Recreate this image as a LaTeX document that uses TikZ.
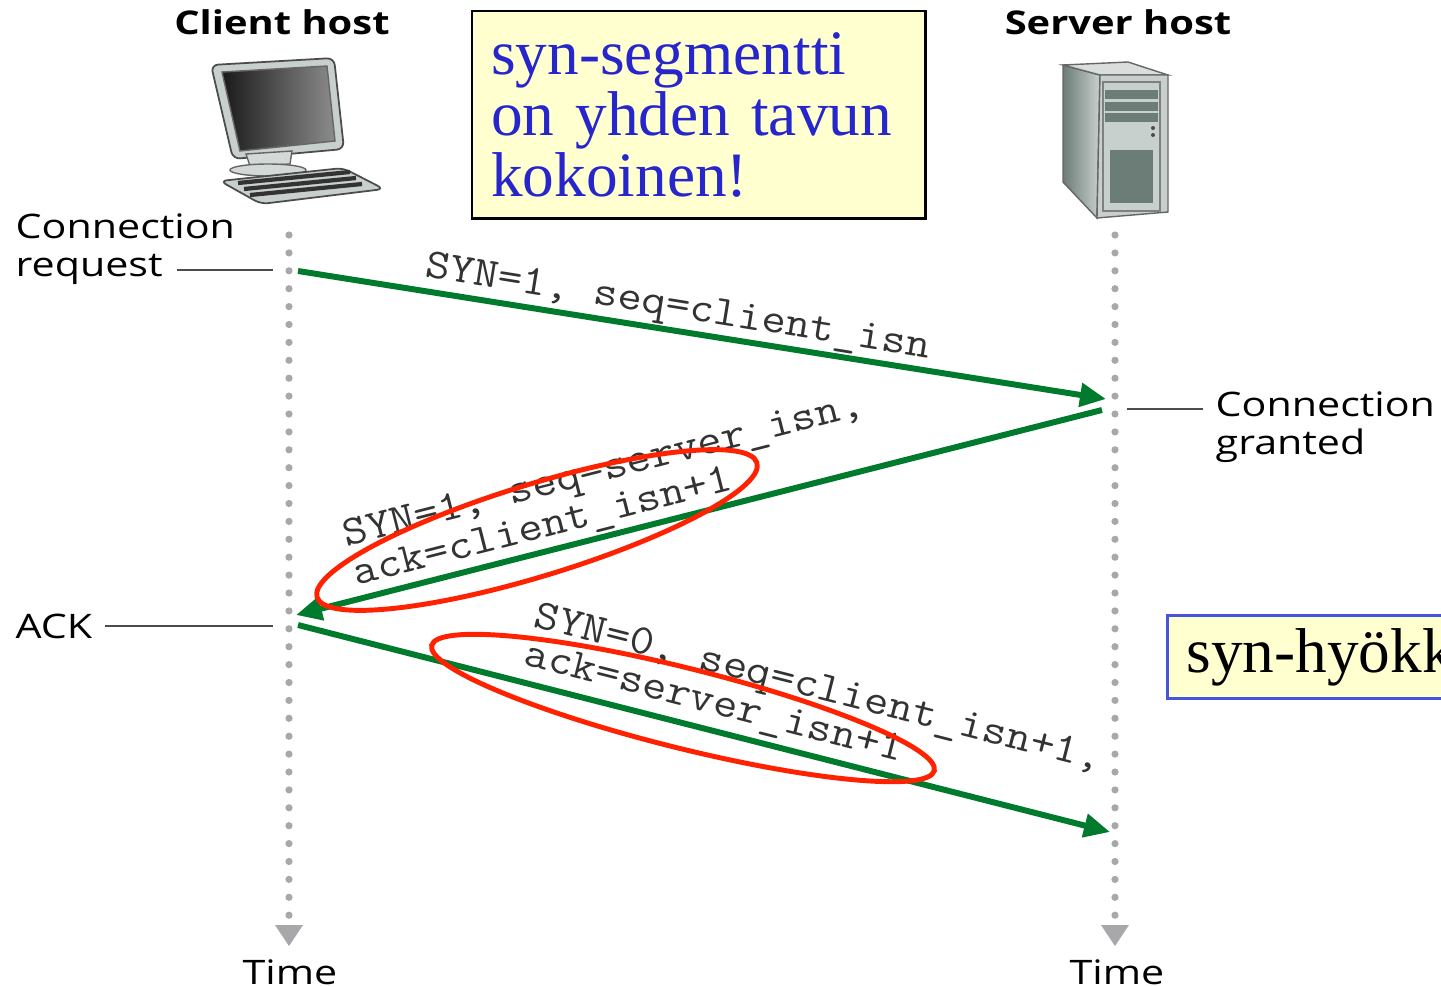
\documentclass[tikz,border=0pt]{standalone}
\usepackage{fontspec}
\setmainfont{Liberation Serif}
\newfontfamily\hostfont[FakeStretch=1.22]{Open Sans}
\newfontfamily\pktfont[FakeStretch=1.12]{Latin Modern Mono}
\usetikzlibrary{arrows.meta}

\definecolor{msggreen}{RGB}{0,122,45}
\definecolor{ovalred}{RGB}{255,34,0}
\definecolor{notebg}{RGB}{255,255,208}
\definecolor{noteblue}{RGB}{38,38,204}
\definecolor{notefrm}{RGB}{70,85,220}
\definecolor{dotgray}{RGB}{168,168,170}
\definecolor{silver}{RGB}{200,208,205}
\definecolor{slate}{RGB}{108,124,118}

\begin{document}
\begin{tikzpicture}[x=0.01cm, y=-0.01cm,
    host/.style={font=\hostfont\bfseries\fontsize{9.3}{11}\selectfont, inner sep=0pt},
    lbl/.style={font=\hostfont\fontsize{9.6}{10.8}\selectfont, align=left,
      anchor=west, inner sep=0pt},
    tick/.style={draw=black!70, line width=0.5pt},
    msg/.style={draw=msggreen, line width=1.7pt,
      -{Triangle[length=2.6mm, width=2.3mm]}},
    pkt/.style={font=\pktfont\fontsize{12}{11.4}\selectfont, text=black!80,
      align=left, inner sep=0pt},
    oval/.style={draw=ovalred, line width=1.4pt},
    note/.style={draw, fill=notebg, anchor=north west, align=left,
      inner xsep=0.19cm, font=\fontsize{18}{17.3}\selectfont}
  ]
  \useasboundingbox (0,0) rectangle (1441,987);
  \clip (0,0) rectangle (1441,987);
  \fill[white] (0,0) rectangle (1441,987);

  % hosts
  \node[host] (chost) at (282,22) {Client host};
  \node[host] (shost) at (1118,22) {Server host};

  % client pc
  \filldraw[draw=black!70, fill=silver, line width=0.5pt, rounded corners=2]
    (211,65) -- (334,58) -- (344,149) -- (233,159) -- cycle;
  \shade[left color=black!90, right color=black!45, draw=black!60]
    (222,72) -- (327,66) -- (335,141) -- (240,151) -- cycle;
  \filldraw[draw=black!60, fill=silver!80, line width=0.4pt]
    (246,154) -- (292,151) -- (290,164) -- (250,166) -- cycle;
  \filldraw[draw=black!60, fill=silver!80, line width=0.4pt]
    (268,170) ellipse (38 and 6);
  \filldraw[draw=black!70, fill=silver, line width=0.5pt, rounded corners=2]
    (220,181) -- (343,168) -- (384,189) -- (261,204) -- cycle;
  \foreach \d in {0,6,12}
    \draw[black!80, line width=1.2pt] (238+\d,183+\d) -- (350+\d,172+\d);

  % server tower
  \shade[left color=slate, right color=silver, draw=black!60]
    (1063,65) -- (1100,75) -- (1097,218) -- (1063,182) -- cycle;
  \filldraw[draw=black!60, fill=silver!70]
    (1063,65) -- (1128,62) -- (1168,75) -- (1100,75) -- cycle;
  \filldraw[draw=black!60, fill=silver]
    (1100,75) -- (1168,75) -- (1168,212) -- (1097,218) -- cycle;
  \draw[black!50] (1103,82) rectangle (1160,211);
  \foreach \yb in {90,102,113}
    \fill[slate] (1105,\yb) rectangle (1158,\yb+9);
  \fill[black!70] (1153,128) circle[radius=0.2mm] (1153,135) circle[radius=0.2mm];
  \fill[slate] (1110,150) rectangle (1153,203);

  % notes
  \node[note, text=noteblue, minimum width=4.53cm, minimum height=2.07cm,
    text width=4.15cm, line width=0.7pt] (segnote) at (471,10)
    {syn-segmentti\\on yhden tavun\\kokoinen!};
  \node[note, draw=notefrm, text=black, minimum height=0.83cm,
    text width=4cm, line width=0.8pt] (atknote) at (1166,614) {syn-hyökk};

  % time lines
  \foreach \k in {0,...,38} {
    \fill[dotgray] (289,235+17.9*\k) circle[radius=0.36mm];
    \fill[dotgray] (1115,235+17.9*\k) circle[radius=0.36mm];
  }
  \fill[dotgray] (275,925) -- (303,925) -- (289,946) -- cycle;
  \fill[dotgray] (1101,925) -- (1129,925) -- (1115,946) -- cycle;
  \node[lbl, anchor=center] (ctime) at (290,972) {Time};
  \node[lbl, anchor=center] (stime) at (1117,972) {Time};

  % events
  \node[lbl] (req) at (15,249) {Connection\\request};
  \node[lbl] (grant) at (1215,427) {Connection\\granted};
  \node[lbl] (ack) at (15,626) {ACK};
  \coordinate (reqa) at (177,270);
  \coordinate (reqb) at (273,270);
  \coordinate (granta) at (1127,409);
  \coordinate (grantb) at (1203,409);
  \coordinate (acka) at (105,626);
  \coordinate (ackb) at (273,626);
  \draw[tick] (reqa) -- (reqb);
  \draw[tick] (granta) -- (grantb);
  \draw[tick] (acka) -- (ackb);

  % segments
  \coordinate (c1) at (298,271);
  \coordinate (s1) at (1106,399);
  \coordinate (s2) at (1102,410);
  \coordinate (c2) at (296,615);
  \coordinate (c3) at (298,625);
  \coordinate (s3) at (1110,832);
  \draw[msg] (c1) -- (s1);
  \draw[msg] (s2) -- (c2);
  \draw[msg] (c3) -- (s3);

  \node[pkt, rotate=-9.15] (synlbl) at (678,309) {SYN=1, seq=client\_isn};
  \node[pkt, rotate=14.3] (synacklbl) at (609,491)
    {SYN=1, seq=server\_isn,\\ack=client\_isn+1};
  \node[pkt, rotate=-14.3] (acklbl) at (813,709)
    {SYN=0, seq=client\_isn+1,\\ack=server\_isn+1};

  % red marks
  \draw[oval, rotate around={17:(537,530)}] (537,530) ellipse (230 and 46);
  \draw[oval, rotate around={-14:(683,708)}] (683,708) ellipse (259 and 40);
\end{tikzpicture}
\end{document}
